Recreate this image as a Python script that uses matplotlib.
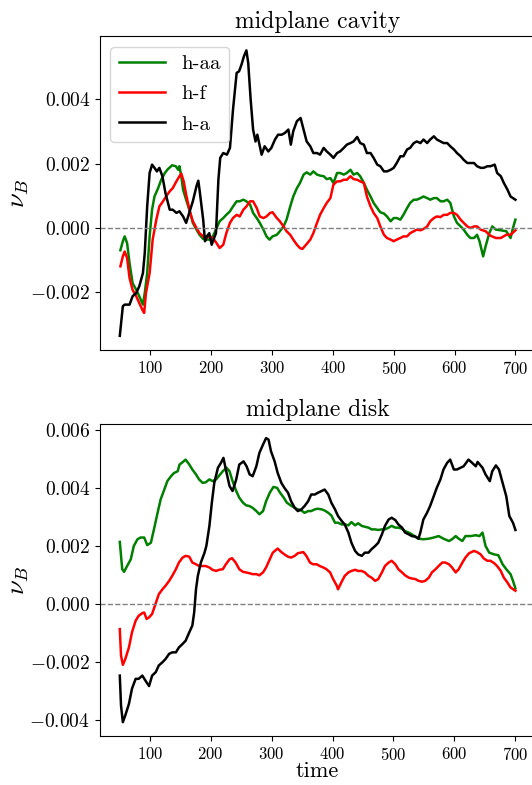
import numpy as np
import matplotlib
matplotlib.use("Agg")
import matplotlib.pyplot as plt

plt.rcParams['font.family'] = 'serif'
plt.rcParams['font.serif'] = ['cmr10']
plt.rcParams['mathtext.fontset'] = 'cm'
plt.rcParams['axes.formatter.use_mathtext'] = True
plt.rcParams['axes.unicode_minus'] = True

# values are in units of 1e-3
# ---- midplane cavity ----
cav_t_a = [50, 55, 58, 66, 71, 77, 82, 88, 91, 95, 99, 103, 107, 111, 115, 120, 125, 132, 137, 143,
           148, 154, 159, 165, 170, 176, 179, 181, 187, 190, 193, 197, 201, 204, 208, 212, 215, 220, 226, 231,
           236, 242, 246, 250, 254, 258, 261, 265, 269, 273, 276, 280, 283, 288, 294, 299, 305, 310, 316, 321,
           327, 331, 335, 341, 347, 352, 357, 363, 368, 374, 379, 385, 390, 396, 401, 407, 412, 418, 423, 429,
           434, 440, 445, 451, 456, 462, 467, 473, 478, 484, 489, 495, 500, 505, 511, 516, 522, 527, 533, 538,
           544, 549, 555, 560, 566, 571, 577, 582, 588, 593, 599, 604, 610, 615, 621, 626, 632, 637, 643, 648,
           654, 659, 666, 670, 676, 681, 687, 692, 700]
cav_ha = [-3.35, -2.43, -2.38, -2.38, -2.12, -2.02, -1.81, -1.40, -0.78, 0.67, 1.71, 1.97, 1.87, 1.76, 1.87, 1.61, 1.09, 0.57, 0.57, 0.47,
          0.52, 0.36, 0.16, 0.52, 0.83, 1.30, 1.47, 1.19, 0.26, -0.41, -0.26, -0.16, -0.52, -0.36, -0.16, 1.50, 2.18, 2.33, 2.28, 2.49,
          3.68, 4.82, 4.87, 5.08, 5.34, 5.52, 5.13, 3.99, 3.06, 2.69, 2.90, 2.54, 2.28, 2.54, 2.38, 2.49, 2.75, 2.90, 2.90, 2.95,
          3.06, 2.59, 3.01, 3.32, 3.42, 3.06, 2.69, 2.54, 2.33, 2.33, 2.28, 2.49, 2.38, 2.28, 2.18, 2.33, 2.38, 2.49, 2.59, 2.64,
          2.69, 2.83, 2.64, 2.59, 2.33, 2.33, 2.18, 1.97, 1.92, 1.76, 1.76, 1.81, 1.87, 2.02, 2.23, 2.23, 2.44, 2.49, 2.64, 2.69,
          2.64, 2.75, 2.64, 2.75, 2.85, 2.75, 2.69, 2.64, 2.64, 2.54, 2.44, 2.33, 2.23, 2.12, 2.02, 2.02, 2.02, 1.92, 1.87, 1.87,
          1.92, 1.92, 1.97, 1.71, 1.61, 1.40, 1.19, 0.98, 0.88]

cav_t_aa = [51, 55, 58, 62, 66, 71, 77, 82, 88, 91, 95, 99, 103, 107, 113, 118, 124, 129, 136, 142,
            146, 148, 151, 154, 159, 165, 170, 176, 181, 187, 192, 198, 203, 209, 214, 220, 225, 231, 236, 242,
            247, 253, 258, 264, 269, 275, 280, 286, 291, 296, 301, 308, 313, 319, 324, 330, 335, 341, 346, 352,
            357, 363, 368, 374, 379, 385, 390, 396, 401, 407, 412, 418, 423, 429, 434, 440, 445, 451, 456, 462,
            467, 473, 478, 484, 489, 495, 500, 505, 511, 516, 522, 527, 533, 538, 544, 549, 555, 560, 566, 571,
            577, 582, 588, 593, 599, 604, 610, 615, 621, 626, 632, 637, 641, 647, 651, 657, 662, 668, 676, 685,
            692, 696, 700]
cav_haa = [-0.69, -0.41, -0.26, -0.47, -1.09, -1.71, -1.92, -2.12, -2.38, -2.02, -1.40, -0.26, 0.57, 0.98, 1.24, 1.50, 1.71, 1.83, 1.95, 1.92,
           1.81, 1.92, 1.61, 1.19, 0.88, 0.52, 0.16, -0.05, -0.21, -0.34, -0.36, -0.36, -0.26, 0.00, 0.21, 0.31, 0.41, 0.52, 0.67, 0.83,
           0.83, 0.88, 0.83, 0.73, 0.47, 0.31, 0.16, -0.05, -0.26, -0.36, -0.26, -0.21, -0.10, 0.05, 0.26, 0.67, 0.98, 1.24, 1.40, 1.66,
           1.73, 1.66, 1.76, 1.66, 1.63, 1.61, 1.52, 1.55, 1.40, 1.71, 1.71, 1.66, 1.71, 1.81, 1.66, 1.71, 1.61, 1.40, 1.19, 0.98,
           0.78, 0.62, 0.49, 0.45, 0.36, 0.21, 0.31, 0.31, 0.26, 0.41, 0.62, 0.78, 0.88, 0.88, 0.93, 0.98, 0.93, 0.88, 0.93, 0.93,
           0.83, 0.83, 0.88, 0.78, 0.36, 0.16, 0.05, -0.05, -0.21, -0.31, -0.31, -0.21, -0.41, -0.88, -0.57, -0.16, 0.05, -0.05, -0.07, -0.10,
           -0.31, 0.00, 0.26]

cav_t_f = [51, 55, 58, 62, 66, 71, 77, 82, 87, 90, 93, 99, 104, 110, 115, 121, 126, 132, 137, 143,
           148, 151, 155, 159, 165, 170, 176, 181, 187, 192, 198, 203, 209, 214, 220, 225, 231, 236, 242, 247,
           253, 258, 264, 269, 275, 280, 286, 291, 297, 301, 308, 313, 319, 324, 330, 335, 341, 346, 350, 356,
           363, 368, 374, 379, 385, 390, 396, 401, 407, 412, 418, 423, 429, 434, 440, 445, 451, 456, 462, 467,
           473, 478, 484, 489, 495, 500, 505, 511, 516, 522, 527, 533, 538, 544, 549, 555, 560, 566, 571, 577,
           582, 588, 593, 599, 604, 610, 615, 621, 626, 632, 637, 643, 651, 659, 668, 676, 685, 692, 700]
cav_hf = [-1.19, -0.88, -0.73, -0.93, -1.55, -1.92, -2.12, -2.33, -2.54, -2.64, -2.02, -1.40, -0.36, 0.26, 0.67, 0.83, 0.98, 1.14, 1.24, 1.45,
          1.61, 1.69, 1.45, 1.04, 0.52, 0.21, 0.00, -0.16, -0.26, -0.31, -0.26, -0.31, -0.47, -0.62, -0.52, -0.16, 0.16, 0.31, 0.41, 0.36,
          0.57, 0.67, 0.83, 0.83, 0.62, 0.36, 0.31, 0.36, 0.47, 0.49, 0.31, 0.21, 0.05, -0.10, -0.21, -0.36, -0.52, -0.62, -0.65, -0.52,
          -0.36, -0.16, 0.16, 0.41, 0.62, 0.78, 0.93, 1.35, 1.45, 1.45, 1.50, 1.50, 1.61, 1.52, 1.50, 1.45, 1.40, 0.98, 0.67, 0.47,
          0.31, 0.05, -0.21, -0.31, -0.36, -0.41, -0.36, -0.31, -0.26, -0.26, -0.16, -0.10, -0.05, -0.07, -0.03, 0.05, 0.21, 0.31, 0.36, 0.34,
          0.41, 0.41, 0.47, 0.47, 0.41, 0.26, 0.16, 0.05, 0.00, 0.05, 0.05, -0.05, -0.10, -0.24, -0.31, -0.31, -0.21, -0.21, -0.07]

# ---- midplane disk ----
disk_t_a = [51, 53, 56, 60, 66, 71, 77, 82, 88, 93, 99, 104, 110, 115, 121, 126, 132, 137, 143, 148,
            154, 159, 165, 170, 173, 176, 179, 184, 190, 193, 198, 202, 206, 212, 217, 221, 225, 231, 236, 242,
            247, 254, 259, 264, 269, 275, 280, 286, 291, 295, 299, 305, 310, 316, 321, 327, 332, 338, 343, 349,
            354, 360, 365, 371, 376, 382, 387, 393, 398, 404, 409, 415, 420, 426, 431, 437, 442, 448, 453, 459,
            464, 470, 475, 481, 486, 492, 497, 503, 508, 514, 519, 525, 530, 536, 541, 544, 549, 555, 560, 566,
            571, 577, 582, 588, 593, 599, 604, 610, 615, 623, 629, 635, 638, 646, 651, 658, 662, 668, 673, 679,
            685, 690, 696, 700]
disk_ha = [-2.46, -3.49, -4.06, -3.83, -3.43, -2.91, -2.57, -2.57, -2.46, -2.63, -2.82, -2.46, -2.34, -2.11, -2.00, -1.89, -1.71, -1.66, -1.66, -1.49,
           -1.37, -1.26, -0.97, -0.74, -0.29, 0.51, 0.97, 1.43, 1.77, 2.00, 2.69, 3.49, 4.17, 4.69, 4.86, 5.03, 4.63, 4.06, 3.89, 4.29,
           4.80, 4.91, 4.74, 4.46, 4.40, 4.74, 5.20, 5.49, 5.71, 5.66, 5.26, 4.91, 4.51, 4.17, 4.00, 3.83, 3.54, 3.31, 3.20, 3.26,
           3.37, 3.54, 3.77, 3.77, 3.83, 3.89, 3.94, 3.77, 3.49, 3.26, 3.03, 2.86, 2.74, 2.46, 2.11, 1.83, 1.71, 1.66, 1.77, 1.77,
           1.89, 2.00, 2.11, 2.40, 2.69, 2.91, 2.97, 2.89, 2.74, 2.63, 2.46, 2.40, 2.34, 2.32, 2.25, 2.46, 2.91, 3.14, 3.37, 3.71,
           4.00, 4.29, 4.63, 4.86, 4.97, 4.63, 4.63, 4.69, 4.74, 4.97, 4.86, 4.74, 4.89, 4.69, 4.46, 4.23, 4.57, 4.77, 4.63, 4.17,
           3.71, 3.03, 2.80, 2.55]

disk_t_aa = [51, 55, 58, 63, 69, 74, 80, 85, 91, 96, 102, 107, 113, 118, 124, 129, 135, 140, 146, 149,
             154, 159, 165, 170, 176, 181, 187, 192, 198, 203, 209, 214, 220, 226, 231, 236, 242, 247, 253, 258,
             264, 269, 275, 280, 286, 291, 297, 303, 309, 314, 320, 325, 331, 338, 343, 349, 354, 360, 365, 371,
             376, 382, 387, 393, 398, 404, 409, 415, 420, 426, 431, 437, 442, 448, 453, 459, 464, 470, 475, 481,
             486, 492, 497, 503, 508, 514, 519, 525, 530, 536, 541, 549, 558, 566, 574, 582, 591, 596, 602, 607,
             613, 618, 627, 635, 641, 646, 651, 657, 665, 672, 679, 685, 692, 696, 700]
disk_haa = [2.14, 1.20, 1.11, 1.31, 1.54, 2.00, 2.23, 2.29, 2.29, 2.03, 2.11, 2.57, 3.14, 3.60, 3.94, 4.23, 4.40, 4.51, 4.57, 4.80,
            4.88, 4.97, 4.80, 4.63, 4.46, 4.29, 4.17, 4.19, 4.29, 4.23, 4.29, 4.42, 4.57, 4.69, 4.57, 4.23, 3.89, 3.66, 3.49, 3.40,
            3.37, 3.31, 3.20, 3.09, 3.20, 3.54, 3.83, 4.03, 4.00, 3.83, 3.66, 3.49, 3.40, 3.31, 3.26, 3.22, 3.14, 3.20, 3.20, 3.26,
            3.28, 3.26, 3.22, 3.14, 3.05, 2.80, 2.80, 2.74, 2.74, 2.71, 2.82, 2.71, 2.78, 2.69, 2.66, 2.63, 2.57, 2.57, 2.55, 2.57,
            2.57, 2.63, 2.69, 2.63, 2.63, 2.59, 2.51, 2.46, 2.40, 2.32, 2.25, 2.23, 2.25, 2.29, 2.34, 2.25, 2.17, 2.23, 2.34, 2.25,
            2.17, 2.34, 2.34, 2.37, 2.34, 2.46, 2.00, 1.77, 1.71, 1.68, 1.37, 1.20, 1.03, 0.80, 0.54]

disk_t_f = [51, 53, 56, 60, 66, 71, 77, 82, 88, 91, 95, 99, 104, 110, 115, 121, 126, 132, 137, 143,
            148, 154, 159, 165, 170, 176, 181, 187, 192, 198, 203, 209, 214, 220, 225, 231, 235, 241, 247, 253,
            258, 264, 269, 275, 280, 286, 291, 297, 302, 310, 316, 321, 327, 332, 338, 343, 352, 357, 363, 368,
            374, 379, 385, 390, 396, 401, 407, 409, 415, 420, 426, 431, 437, 442, 448, 453, 459, 464, 470, 475,
            481, 486, 492, 497, 503, 508, 514, 519, 525, 530, 536, 541, 547, 552, 558, 563, 569, 574, 580, 585,
            591, 596, 602, 607, 613, 618, 624, 632, 637, 643, 648, 654, 659, 665, 670, 676, 681, 687, 692, 700]
disk_hf = [-0.86, -1.77, -2.09, -1.89, -1.49, -0.97, -0.57, -0.40, -0.31, -0.29, -0.51, -0.46, -0.34, 0.03, 0.34, 0.51, 0.63, 0.80, 0.97, 1.20,
           1.43, 1.60, 1.66, 1.63, 1.43, 1.37, 1.31, 1.31, 1.31, 1.26, 1.18, 1.14, 1.18, 1.20, 1.37, 1.54, 1.58, 1.43, 1.20, 1.11,
           1.09, 1.06, 1.03, 1.03, 0.99, 1.09, 1.26, 1.54, 1.77, 1.91, 1.79, 1.71, 1.63, 1.60, 1.66, 1.75, 1.79, 1.66, 1.43, 1.37,
           1.37, 1.31, 1.26, 1.20, 1.09, 0.86, 0.63, 0.51, 0.77, 0.97, 1.09, 1.14, 1.18, 1.14, 1.14, 1.09, 0.97, 0.91, 0.80, 0.86,
           1.09, 1.31, 1.43, 1.49, 1.37, 1.20, 1.09, 0.99, 0.91, 0.88, 0.86, 0.80, 0.77, 0.80, 0.91, 1.09, 1.20, 1.31, 1.43, 1.43,
           1.37, 1.26, 1.09, 1.20, 1.43, 1.60, 1.75, 1.83, 1.79, 1.71, 1.57, 1.49, 1.49, 1.41, 1.31, 1.14, 0.91, 0.74, 0.57, 0.46]

panels = [
    ("midplane cavity", (cav_t_aa, cav_haa), (cav_t_f, cav_hf), (cav_t_a, cav_ha)),
    ("midplane disk", (disk_t_aa, disk_haa), (disk_t_f, disk_hf), (disk_t_a, disk_ha)),
]

fig = plt.figure(figsize=(5.32, 7.85), dpi=100)
ax1 = fig.add_axes([0.188, 0.554, 0.818, 0.400])
ax2 = fig.add_axes([0.188, 0.062, 0.818, 0.398])

for ax, (title, aa, f, a) in zip([ax1, ax2], panels):
    ax.plot(aa[0], np.array(aa[1]) * 1e-3, color='green', lw=1.8, label='h-aa')
    ax.plot(f[0], np.array(f[1]) * 1e-3, color='red', lw=1.8, label='h-f')
    ax.plot(a[0], np.array(a[1]) * 1e-3, color='black', lw=1.8, label='h-a')
    ax.axhline(0, color='gray', ls='--', lw=1)
    ax.set_title(title, fontsize=17)
    ax.set_ylabel(r'$\nu_B$', fontsize=19, labelpad=-1)
    ax.set_xticks([100, 200, 300, 400, 500, 600, 700])
    ax.tick_params(axis='x', labelsize=12)
    ax.tick_params(axis='y', labelsize=14)

ax1.set_yticks([-0.002, 0.000, 0.002, 0.004])
ax2.set_yticks([-0.004, -0.002, 0.000, 0.002, 0.004, 0.006])
ax1.legend(loc='upper left', fontsize=15, handlelength=2.2, labelspacing=0.55)
ax2.set_xlabel('time', fontsize=16, labelpad=-1)

fig.savefig('out.png', dpi=100)
